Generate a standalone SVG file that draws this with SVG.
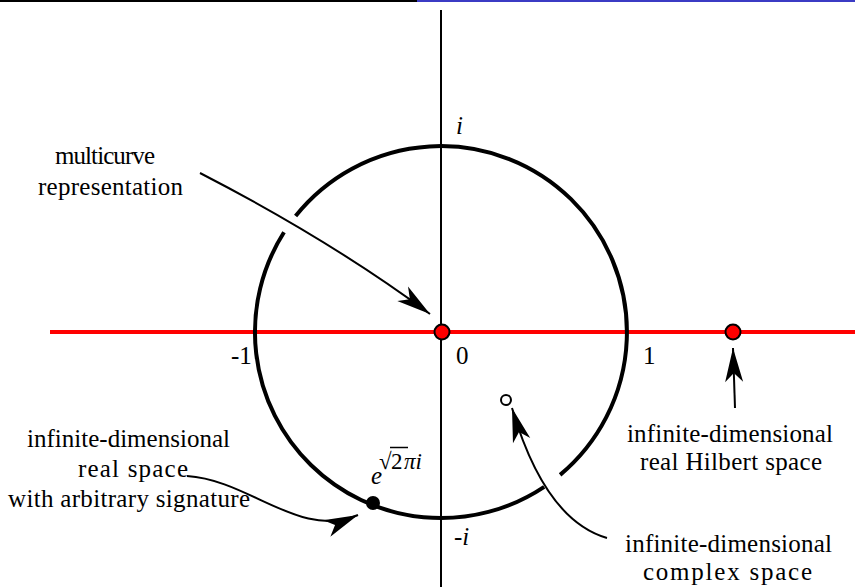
<svg xmlns="http://www.w3.org/2000/svg" width="855" height="587" viewBox="0 0 855 587">
<style>
.t{font-family:"Liberation Serif","Times New Roman",serif;font-size:25px;fill:#000}
.it{font-style:italic}
.ax{stroke:#000;stroke-width:2;fill:none}
.arr{stroke:#000;stroke-width:2;fill:none;marker-end:url(#ah)}
</style>
<defs>
<marker id="ah" viewBox="-35 -10 37 20" refX="0" refY="0" markerWidth="37" markerHeight="20" markerUnits="userSpaceOnUse" orient="auto">
<path d="M0,0 L-34,-9 L-25,0 L-34,9 Z" fill="#000"/>
</marker>
</defs>
<rect width="855" height="587" fill="#fff"/>
<line x1="0" y1="1" x2="417" y2="1" stroke="#000" stroke-width="2"/>
<line x1="417" y1="1" x2="855" y2="1" stroke="#3b3bc4" stroke-width="2"/>
<g id="axes">
<line class="ax" x1="441" y1="10" x2="441" y2="587"/>
<line x1="50" y1="332" x2="855" y2="332" stroke="#ff0000" stroke-width="4"/>
</g>
<g id="unit-circle" fill="none" stroke="#000" stroke-width="4">
<path d="M544.2,486.8 A186,186 0 0 1 284.0,232.3"/>
<path d="M295.6,216.0 A186,186 0 1 1 560.1,474.9"/>
</g>
<g id="connectors">
<path class="arr" d="M200,173 Q330,240 430,314"/>
<path class="arr" d="M735,408 L733,348"/>
<path class="arr" d="M607,538 Q545,520 512,408"/>
<path class="arr" d="M187,476 C250,480 300,540 358,515"/>
</g>
<g id="origin"><circle cx="442" cy="332" r="7.5" fill="#ff0000" stroke="#000" stroke-width="2"/></g>
<g id="hilbert-point"><circle cx="733" cy="332" r="7.5" fill="#ff0000" stroke="#000" stroke-width="2"/></g>
<g id="complex-point"><circle cx="506" cy="400" r="5" fill="#fff" stroke="#000" stroke-width="2"/></g>
<g id="signature-point"><circle cx="373" cy="503" r="7" fill="#000"/></g>
<g id="axis-labels">
<text class="t it" x="456" y="134">i</text>
<text class="t" x="231" y="364">-1</text>
<text class="t" x="456" y="364">0</text>
<text class="t" x="643" y="364">1</text>
<text class="t it" x="454" y="545">-i</text>
</g>
<g id="exp-label">
<text class="t it" x="371" y="484">e<tspan x="379" y="469" font-size="23" font-style="normal">√</tspan><tspan x="391" y="469" font-size="23" font-style="normal">2</tspan><tspan x="404" y="469" font-size="23">πi</tspan></text>
<line x1="390" y1="447.5" x2="408" y2="447.5" stroke="#000" stroke-width="1.5"/>
</g>
<g id="label-multicurve">
<text class="t" x="55" y="164" textLength="100" lengthAdjust="spacing">multicurve</text>
<text class="t" x="38" y="195" textLength="145" lengthAdjust="spacing">representation</text>
</g>
<g id="label-real">
<text class="t" x="27" y="447" textLength="203" lengthAdjust="spacing">infinite-dimensional</text>
<text class="t" x="78" y="477" textLength="110" lengthAdjust="spacing">real space</text>
<text class="t" x="8" y="507" textLength="242" lengthAdjust="spacing">with arbitrary signature</text>
</g>
<g id="label-hilbert">
<text class="t" x="627" y="442" textLength="206" lengthAdjust="spacing">infinite-dimensional</text>
<text class="t" x="640" y="470" textLength="182" lengthAdjust="spacing">real Hilbert space</text>
</g>
<g id="label-complex">
<text class="t" x="625" y="552" textLength="207" lengthAdjust="spacing">infinite-dimensional</text>
<text class="t" x="643" y="580" textLength="169" lengthAdjust="spacing">complex space</text>
</g>
</svg>
